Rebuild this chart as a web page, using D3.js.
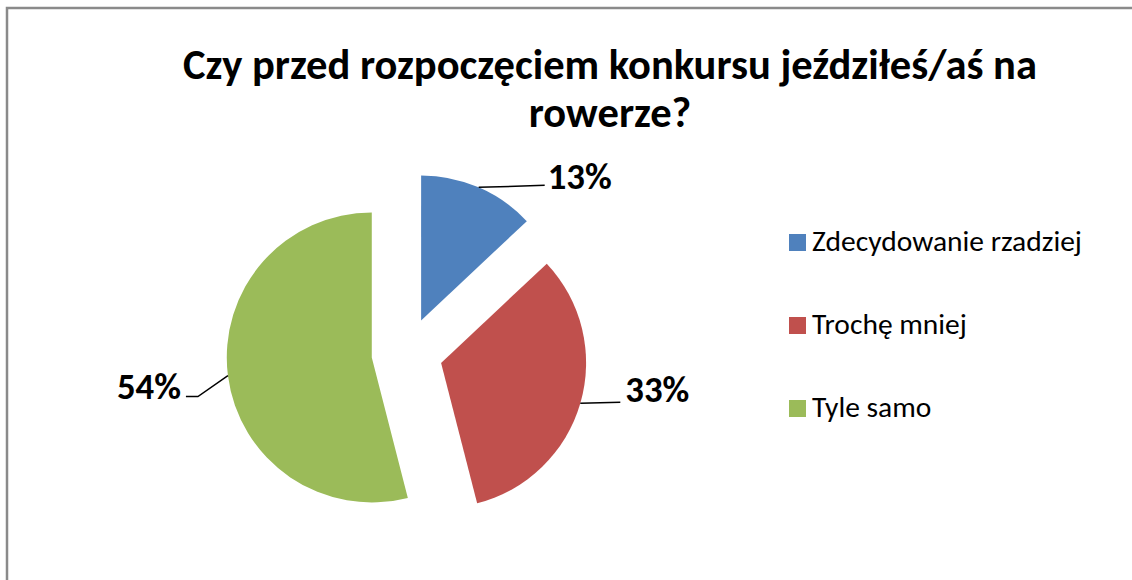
<!DOCTYPE html>
<html>
<head>
<meta charset="utf-8">
<script src="https://cdn.jsdelivr.net/npm/d3@7"></script>
<style>
  body { margin: 0; background: #fff; }
  svg { display: block; }
</style>
</head>
<body>
<svg id="pie-chart" width="1132" height="580"></svg>
<script>
// chart values
const categories = ["Zdecydowanie rzadziej", "Trochę mniej", "Tyle samo"];
const values = [13, 33, 54];
const valueLabels = ["13%", "33%", "54%"];
const colors = ["#4f81bd", "#c0504d", "#9bbb59"];
const titleLines = ["Czy przed rozpoczęciem konkursu jeździłeś/aś na", "rowerze?"];

const plotExplodedPie = (elementSelector) => {
	const svg = d3.select(elementSelector),
		fontFamily = "Carlito, Lato, 'Open Sans', sans-serif",
		cx = 407, cy = 353,
		radius = 145,
		explode = 35.5;

	// fit a text to a measured width from the picture
	const fit = (sel, w) => {
		const cur = sel.node().getComputedTextLength();
		sel.attr("font-size", +sel.attr("font-size") * w / cur);
	};

	// frame (only top and left edges visible)
	svg.append("path")
		.attr("d", "M7,580 V8 H1132")
		.attr("fill", "none")
		.attr("stroke", "#8a8a8a")
		.attr("stroke-width", 2.5);

	// title
	const title = svg.append("g")
		.attr("font-family", fontFamily)
		.attr("font-weight", "bold")
		.attr("text-anchor", "middle")
		.attr("fill", "#000");
	const t1 = title.append("text").attr("x", 610).attr("y", 79).attr("font-size", 36).text(titleLines[0]);
	fit(t1, 854);
	title.append("text").attr("x", 610).attr("y", 127).attr("font-size", t1.attr("font-size")).text(titleLines[1]);

	const pie = d3.pie().sort(null).value(d => d);
	const arcs = pie(values);
	const arc = d3.arc().innerRadius(0).outerRadius(radius);

	const mid = d => (d.startAngle + d.endAngle) / 2;
	const offset = (d, r) => [Math.sin(mid(d)) * r, -Math.cos(mid(d)) * r];

	const g = svg.append("g").attr("transform", "translate(" + cx + "," + cy + ")");

	g.selectAll("path.slice")
		.data(arcs)
		.enter().append("path")
		.attr("class", "slice")
		.attr("fill", (d, i) => colors[i])
		.attr("transform", d => "translate(" + offset(d, explode) + ")")
		.attr("d", arc);

	// leader lines: from the outer arc at mid angle, then elbow to label
	const leaderLayout = [
		{ pts: [[66, -2]], anchor: "start", dx: 3, dy: 4 },
		{ pts: [[40, -1]], anchor: "start", dx: 5, dy: 0 },
		{ pts: [[-30, 21], [-42, 21]], anchor: "end", dx: -5, dy: 2 }
	];

	const labels = g.append("g")
		.attr("font-family", fontFamily)
		.attr("font-weight", "bold")
		.attr("fill", "#000");

	arcs.forEach((d, i) => {
		const o = offset(d, explode + radius);
		const lay = leaderLayout[i];
		const pts = [o].concat(lay.pts.map(p => [o[0] + p[0], o[1] + p[1]]));
		const end = pts[pts.length - 1];
		labels.append("path")
			.attr("d", d3.line()(pts))
			.attr("fill", "none")
			.attr("stroke", "#000")
			.attr("stroke-width", 1.5);
		const t = labels.append("text")
			.attr("x", end[0] + lay.dx)
			.attr("y", end[1] + lay.dy)
			.attr("text-anchor", lay.anchor)
			.attr("font-size", 36)
			.text(valueLabels[i]);
		fit(t, 64);
	});

	// legend
	const legend = svg.append("g")
		.attr("font-family", fontFamily)
		.attr("font-size", 28)
		.attr("fill", "#000")
		.selectAll("g")
		.data(categories)
		.enter().append("g")
		.attr("transform", (d, i) => "translate(789," + (234 + i * 83) + ")");

	legend.append("rect")
		.attr("width", 17)
		.attr("height", 17)
		.attr("fill", (d, i) => colors[i]);

	const legendText = legend.append("text")
		.attr("x", 23)
		.attr("y", 17)
		.text(d => d);
	const lw = legendText.nodes()[0].getComputedTextLength();
	legendText.attr("font-size", 28 * 270 / lw);
};

plotExplodedPie("#pie-chart");
</script>
</body>
</html>
